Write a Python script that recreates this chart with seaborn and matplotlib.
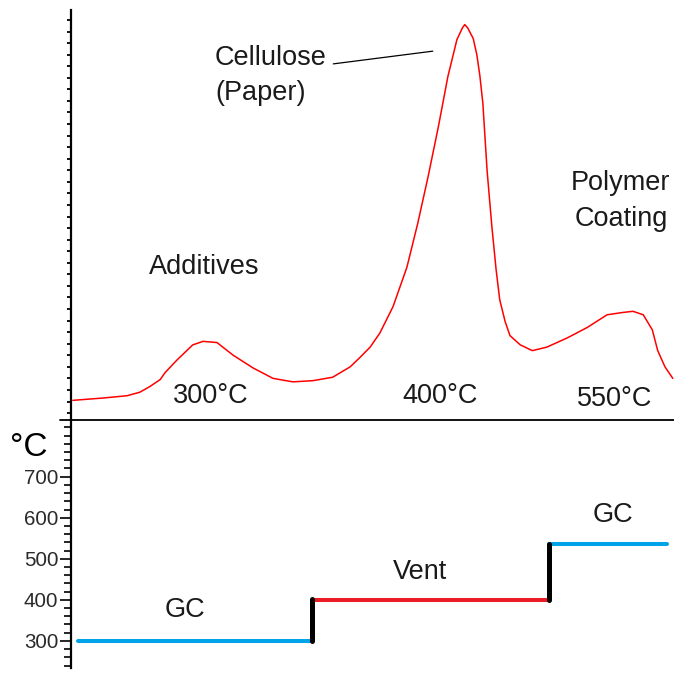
import numpy as np
import pandas as pd
import seaborn as sns
import matplotlib
matplotlib.use("Agg")
import matplotlib.pyplot as plt
from matplotlib.ticker import MultipleLocator
from matplotlib.lines import Line2D

# pyrolysis signal (time in arbitrary units, signal in arbitrary units)
time = [0.3, 5.3, 9.3, 11.4, 13.1, 14.8, 15.6, 17.6, 20.2, 21.9, 24.2, 26.9,
        30.2, 33.5, 36.8, 40.1, 43.4, 46.3, 47.9, 49.6, 51.2, 53.4, 55.7,
        57.5, 59.2, 60.9, 62.5, 64.0, 64.9, 65.3, 65.8, 66.7, 67.3, 67.8,
        68.3, 69.0, 69.8, 70.5, 71.1, 72.0, 72.8, 74.5, 76.5, 78.9, 82.3,
        85.6, 88.9, 91.5, 93.2, 94.9, 96.4, 97.3, 98.5, 99.8]
signal = [1.1, 1.3, 1.5, 1.8, 2.3, 2.9, 3.5, 4.6, 5.9, 6.2, 6.1, 5.0,
          3.9, 3.0, 2.7, 2.8, 3.1, 4.0, 4.8, 5.7, 6.9, 9.2, 12.6,
          16.4, 20.4, 24.7, 29.1, 32.3, 33.3, 33.6, 33.3, 32.4, 31.0, 29.2,
          26.8, 21.0, 16.1, 12.4, 9.8, 7.9, 6.7, 5.9, 5.4, 5.7, 6.5,
          7.4, 8.5, 8.7, 8.8, 8.5, 7.2, 5.4, 4.0, 3.0]

# temperature program: segment start/end times and set points
step_start = [1.2, 40.0, 79.3]
step_end = [40.0, 79.3, 98.8]
step_temp = [300, 400, 535]
step_mode = ["GC", "Vent", "GC"]
step_colors = {"GC": "#00a2e8", "Vent": "#ed1c24"}

peak_labels = ["300°C", "400°C", "550°C"]
temp_ticks = [300, 400, 500, 600, 700]

sns.set_style("white")
plt.rcParams["font.family"] = ["Liberation Sans", "DejaVu Sans"]

fig = plt.figure(figsize=(6.74, 6.73), dpi=100)
ax_top = fig.add_axes([71 / 674, 253 / 673, 603 / 674, 410 / 673])
ax_bot = fig.add_axes([71 / 674, 5 / 673, 603 / 674, 248 / 673])

txt = dict(fontsize=19.5, color="#1a1a1a")

# --- top: signal trace ---
df = pd.DataFrame({"time": time, "signal": signal})
sns.lineplot(data=df, x="time", y="signal", ax=ax_top, color="#ff0000",
             linewidth=1.1)
ax_top.set_xlim(0, 100)
ax_top.set_ylim(-0.6, 34.86)
ax_top.yaxis.set_major_locator(MultipleLocator(1))
ax_top.tick_params(axis="y", direction="out", length=2.8, width=1.3,
                   color="black", labelleft=False, left=True)
ax_top.tick_params(axis="x", bottom=False, labelbottom=False)
for side in ["top", "right", "bottom"]:
    ax_top.spines[side].set_visible(False)
ax_top.spines["left"].set_linewidth(1.6)
ax_top.spines["left"].set_color("black")
ax_top.set_xlabel("")
ax_top.set_ylabel("")

ax_top.text(22.1, 12.6, "Additives", ha="center", va="center", **txt)
ax_top.text(23.9, 29.2, "Cellulose\n(Paper)", ha="left", va="center",
            linespacing=1.45, **txt)
ax_top.plot([43.5, 60.0], [30.2, 31.3], color="black", linewidth=0.9)
ax_top.text(91.2, 18.3, "Polymer\nCoating", ha="center", va="center",
            linespacing=1.5, **txt)
for x, y, lab in zip([23.1, 61.2, 90.1], [1.5, 1.5, 1.2], peak_labels):
    ax_top.text(x, y, lab, ha="center", va="center", **txt)

# --- bottom: temperature program ---
for i in range(len(step_temp)):
    seg = pd.DataFrame({"time": [step_start[i], step_end[i]],
                        "temp": [step_temp[i], step_temp[i]]})
    sns.lineplot(data=seg, x="time", y="temp", ax=ax_bot,
                 color=step_colors[step_mode[i]], linewidth=2.9)
for i in range(1, len(step_temp)):
    seg = pd.DataFrame({"time": [step_start[i], step_start[i]],
                        "temp": [step_temp[i - 1] - 1, step_temp[i] + 1]})
    sns.lineplot(data=seg, x="time", y="temp", ax=ax_bot, color="black",
                 linewidth=3.6, orient="y")

ax_bot.set_xlim(0, 100)
ax_bot.set_ylim(234, 838)
ax_bot.set_yticks(temp_ticks)
ax_bot.set_yticklabels([str(t) for t in temp_ticks])
ax_bot.yaxis.set_minor_locator(MultipleLocator(20))
ax_bot.tick_params(axis="y", which="major", direction="out", length=8,
                   width=1.2, color="black", pad=1, labelsize=14.8,
                   labelcolor="#2a2a2a", left=True)
ax_bot.tick_params(axis="y", which="minor", direction="out", length=5,
                   width=1.2, color="black", left=True)
ax_bot.tick_params(axis="x", bottom=False, labelbottom=False)
for side in ["top", "right", "bottom"]:
    ax_bot.spines[side].set_visible(False)
ax_bot.spines["left"].set_linewidth(1.6)
ax_bot.spines["left"].set_color("black")
ax_bot.set_xlabel("")
ax_bot.set_ylabel("")

for x, y, lab in zip([18.9, 57.9, 89.9], [375, 468, 607], step_mode):
    ax_bot.text(x, y, lab, ha="center", va="center", **txt)

fig.text(29 / 674, 1 - 448 / 673, "°C", ha="center", va="center",
         fontsize=24, color="black")

# separator between the two panels
fig.add_artist(Line2D([60 / 674, 1.0], [253 / 673, 253 / 673],
                      transform=fig.transFigure, color="black", linewidth=1.3))

fig.savefig("out.png", dpi=100)
